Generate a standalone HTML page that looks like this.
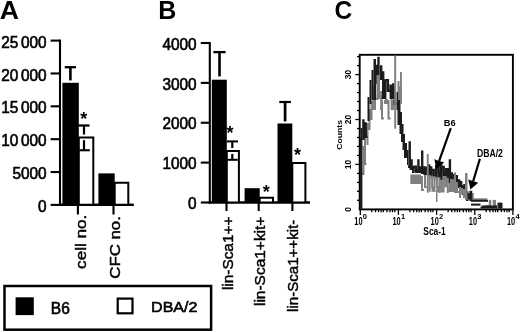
<!DOCTYPE html>
<html><head><meta charset="utf-8"><style>
html,body{margin:0;padding:0;background:#fff;width:520px;height:332px;overflow:hidden}
svg{display:block;filter:blur(0.3px)}
text{font-family:"Liberation Sans",sans-serif;fill:#000}
.ax{stroke:#000;stroke-width:2.1}
.tk{stroke:#000;stroke-width:1.3}
</style></head><body>
<svg width="520" height="332" viewBox="0 0 520 332">
<text id="tA" x="-0.3" y="19" font-size="25.4" font-weight="bold" textLength="19.25" lengthAdjust="spacingAndGlyphs">A</text>
<text id="tB" x="158.3" y="19" font-size="25.4" font-weight="bold" textLength="18.06" lengthAdjust="spacingAndGlyphs">B</text>
<text id="tC" x="334.4" y="19.4" font-size="25.6" font-weight="bold" textLength="17.72" lengthAdjust="spacingAndGlyphs">C</text>
<line x1="60" y1="39.599999999999994" x2="60" y2="205.9" class="ax"/>
<line x1="50.6" y1="40.60" x2="60" y2="40.60" class="ax"/>
<text transform="translate(46.6,47.70) scale(0.985,1)" text-anchor="end" font-size="15.6" stroke="#000" stroke-width="0.6">25<tspan dx="2.7">000</tspan></text>
<line x1="50.6" y1="73.46" x2="60" y2="73.46" class="ax"/>
<text transform="translate(46.6,80.56) scale(0.985,1)" text-anchor="end" font-size="15.6" stroke="#000" stroke-width="0.6">20<tspan dx="2.7">000</tspan></text>
<line x1="50.6" y1="106.32" x2="60" y2="106.32" class="ax"/>
<text transform="translate(46.6,113.42) scale(0.985,1)" text-anchor="end" font-size="15.6" stroke="#000" stroke-width="0.6">15<tspan dx="2.7">000</tspan></text>
<line x1="50.6" y1="139.18" x2="60" y2="139.18" class="ax"/>
<text transform="translate(46.6,146.28) scale(0.985,1)" text-anchor="end" font-size="15.6" stroke="#000" stroke-width="0.6">10<tspan dx="2.7">000</tspan></text>
<line x1="50.6" y1="172.04" x2="60" y2="172.04" class="ax"/>
<text transform="translate(46.6,179.14) scale(0.985,1)" text-anchor="end" font-size="15.6" stroke="#000" stroke-width="0.6">5000</text>
<line x1="50.6" y1="204.90" x2="60" y2="204.90" class="ax"/>
<text transform="translate(46.6,212.00) scale(0.985,1)" text-anchor="end" font-size="15.6" stroke="#000" stroke-width="0.6">0</text>
<line x1="59" y1="204.9" x2="133.7" y2="204.9" class="ax"/>
<line x1="77.9" y1="204.9" x2="77.9" y2="214.5" class="ax"/>
<line x1="113.5" y1="204.9" x2="113.5" y2="214.5" class="ax"/>
<rect x="62.4" y="82.8" width="16.4" height="122.10000000000001" fill="#000"/>
<path d="M78.8,204.9 V137.6 H93.3 V204.9" fill="#fff" stroke="#000" stroke-width="2"/>
<rect x="98.4" y="173.4" width="16.299999999999997" height="31.5" fill="#000"/>
<path d="M114.7,204.9 V182.8 H128.3 V204.9" fill="#fff" stroke="#000" stroke-width="2"/>
<line x1="59" y1="204.9" x2="133.7" y2="204.9" class="ax"/>
<rect x="64.75" y="66.05" width="11.3" height="2.3" fill="#000"/><rect x="69.10000000000001" y="67.2" width="2.6" height="13.200000000000003" fill="#000"/>
<rect x="78.5" y="124.4" width="11.0" height="2.2" fill="#000"/><rect x="82.9" y="125.5" width="2.2" height="9.099999999999994" fill="#000"/>
<rect x="82.9" y="140.2" width="2.2" height="10" fill="#000"/>
<rect x="79.3" y="149.2" width="10.5" height="2.1" fill="#000"/>
<text x="83.8" y="124.5" font-size="18" text-anchor="middle" font-weight="bold">*</text>
<text id="r1" x="85.6" y="214.8" font-size="15.0" text-anchor="end" transform="rotate(-90 85.6 214.8)" textLength="54.07" lengthAdjust="spacingAndGlyphs" stroke="#000" stroke-width="0.45">cell no.</text>
<text id="r2" x="120.5" y="216.1" font-size="15.2" text-anchor="end" transform="rotate(-90 120.5 216.1)" textLength="62.62" lengthAdjust="spacingAndGlyphs" stroke="#000" stroke-width="0.45">CFC no.</text>
<text id="r3" x="233.5" y="216.6" font-size="14.4" text-anchor="end" transform="rotate(-90 233.5 216.6)" textLength="73.45" lengthAdjust="spacingAndGlyphs" stroke="#000" stroke-width="0.45">lin-Sca1++</text>
<text id="r4" x="265" y="216.6" font-size="14.4" text-anchor="end" transform="rotate(-90 265 216.6)" textLength="89.45" lengthAdjust="spacingAndGlyphs" stroke="#000" stroke-width="0.45">lin-Sca1+kit+</text>
<text id="r5" x="298.4" y="219.7" font-size="14.4" text-anchor="end" transform="rotate(-90 298.4 219.7)" textLength="92.22" lengthAdjust="spacingAndGlyphs" stroke="#000" stroke-width="0.45">lin-Sca1++kit-</text>
<line x1="209.8" y1="42.0" x2="209.8" y2="203.5" class="ax"/>
<line x1="200.8" y1="43.00" x2="209.8" y2="43.00" class="ax"/>
<text transform="translate(196.6,49.70) scale(0.985,1)" text-anchor="end" font-size="15.6" stroke="#000" stroke-width="0.6">4000</text>
<line x1="200.8" y1="82.88" x2="209.8" y2="82.88" class="ax"/>
<text transform="translate(196.6,89.58) scale(0.985,1)" text-anchor="end" font-size="15.6" stroke="#000" stroke-width="0.6">3000</text>
<line x1="200.8" y1="122.75" x2="209.8" y2="122.75" class="ax"/>
<text transform="translate(196.6,129.45) scale(0.985,1)" text-anchor="end" font-size="15.6" stroke="#000" stroke-width="0.6">2000</text>
<line x1="200.8" y1="162.62" x2="209.8" y2="162.62" class="ax"/>
<text transform="translate(196.6,169.32) scale(0.985,1)" text-anchor="end" font-size="15.6" stroke="#000" stroke-width="0.6">1000</text>
<line x1="200.8" y1="202.50" x2="209.8" y2="202.50" class="ax"/>
<text transform="translate(196.6,209.20) scale(0.985,1)" text-anchor="end" font-size="15.6" stroke="#000" stroke-width="0.6">0</text>
<line x1="208.8" y1="202.5" x2="310" y2="202.5" class="ax"/>
<line x1="226.5" y1="202.5" x2="226.5" y2="211" class="ax"/>
<line x1="258.7" y1="202.5" x2="258.7" y2="211" class="ax"/>
<line x1="292.4" y1="202.5" x2="292.4" y2="211" class="ax"/>
<rect x="211.8" y="79.7" width="15.0" height="122.8" fill="#000"/>
<path d="M226.8,202.5 V151 H238.9 V202.5" fill="#fff" stroke="#000" stroke-width="2"/>
<rect x="244.6" y="188.2" width="15.099999999999994" height="14.300000000000011" fill="#000"/>
<path d="M259.7,202.5 V197.8 H273 V202.5" fill="#fff" stroke="#000" stroke-width="2"/>
<rect x="277.5" y="123.5" width="14.800000000000011" height="79.0" fill="#000"/>
<path d="M292.3,202.5 V163 H305.4 V202.5" fill="#fff" stroke="#000" stroke-width="2"/>
<line x1="208.8" y1="202.5" x2="310" y2="202.5" class="ax"/>
<rect x="213.4" y="50.95" width="12.2" height="2.3" fill="#000"/><rect x="218.2" y="52.1" width="2.6" height="24.300000000000004" fill="#000"/>
<rect x="279.3" y="100.9" width="11.6" height="2.2" fill="#000"/><rect x="283.75" y="102" width="2.7" height="19.400000000000006" fill="#000"/>
<rect x="226.60000000000002" y="140.4" width="11.4" height="2.0" fill="#000"/><rect x="231.20000000000002" y="141.4" width="2.2" height="6.599999999999994" fill="#000"/>
<rect x="231.20000000000002" y="153.9" width="2.2" height="6" fill="#000"/>
<rect x="227.2" y="158.8" width="10.6" height="2" fill="#000"/>
<text x="230.1" y="139.4" font-size="18" text-anchor="middle" font-weight="bold">*</text>
<text x="266.2" y="198.4" font-size="18" text-anchor="middle" font-weight="bold">*</text>
<text x="297.5" y="161.0" font-size="18" text-anchor="middle" font-weight="bold">*</text>
<rect x="4.5" y="286" width="206.6" height="43.7" fill="none" stroke="#000" stroke-width="2.5"/>
<rect x="15.6" y="297.3" width="18.2" height="17.8" fill="#000"/>
<rect x="117.7" y="298.6" width="14.8" height="14.7" fill="#fff" stroke="#000" stroke-width="2.2"/>
<text id="lgB6" x="50.8" y="313.6" font-size="16" textLength="18.98" lengthAdjust="spacingAndGlyphs" stroke="#000" stroke-width="0.6">B6</text>
<text id="lgDB" x="151.1" y="312.1" font-size="15.46" textLength="46.31" lengthAdjust="spacingAndGlyphs" stroke="#000" stroke-width="0.6">DBA/2</text>
<rect x="359.7" y="54.8" width="153.19999999999996" height="154.60000000000002" fill="none" stroke="#000" stroke-width="1.9"/>
<line x1="357.0" y1="200.3" x2="359.3" y2="200.3" class="tk"/>
<line x1="357.0" y1="191.3" x2="359.3" y2="191.3" class="tk"/>
<line x1="357.0" y1="182.4" x2="359.3" y2="182.4" class="tk"/>
<line x1="357.0" y1="173.4" x2="359.3" y2="173.4" class="tk"/>
<line x1="355.3" y1="164.4" x2="359.3" y2="164.4" class="tk"/>
<line x1="357.0" y1="155.4" x2="359.3" y2="155.4" class="tk"/>
<line x1="357.0" y1="146.4" x2="359.3" y2="146.4" class="tk"/>
<line x1="357.0" y1="137.5" x2="359.3" y2="137.5" class="tk"/>
<line x1="357.0" y1="128.5" x2="359.3" y2="128.5" class="tk"/>
<line x1="355.3" y1="119.5" x2="359.3" y2="119.5" class="tk"/>
<line x1="357.0" y1="110.5" x2="359.3" y2="110.5" class="tk"/>
<line x1="357.0" y1="101.5" x2="359.3" y2="101.5" class="tk"/>
<line x1="357.0" y1="92.6" x2="359.3" y2="92.6" class="tk"/>
<line x1="357.0" y1="83.6" x2="359.3" y2="83.6" class="tk"/>
<line x1="355.3" y1="74.6" x2="359.3" y2="74.6" class="tk"/>
<line x1="357.0" y1="65.6" x2="359.3" y2="65.6" class="tk"/>
<line x1="357.0" y1="56.6" x2="359.3" y2="56.6" class="tk"/>
<text x="351.3" y="209.3" font-size="8.5" text-anchor="middle" font-weight="bold" transform="rotate(-90 351.3 209.3)">0</text>
<text x="351.3" y="164.4" font-size="8.5" text-anchor="middle" font-weight="bold" transform="rotate(-90 351.3 164.4)">10</text>
<text x="351.3" y="119.5" font-size="8.5" text-anchor="middle" font-weight="bold" transform="rotate(-90 351.3 119.5)">20</text>
<text x="351.3" y="74.6" font-size="8.5" text-anchor="middle" font-weight="bold" transform="rotate(-90 351.3 74.6)">30</text>
<text id="Counts" x="342.3" y="134.8" font-size="7.97" text-anchor="middle" font-weight="bold" transform="rotate(-90 342.3 134.8)" textLength="29.68" lengthAdjust="spacingAndGlyphs">Counts</text>
<line x1="371.8" y1="209.4" x2="371.8" y2="212.20000000000002" class="tk"/>
<line x1="375.5" y1="209.4" x2="375.5" y2="212.20000000000002" class="tk"/>
<line x1="378.5" y1="209.4" x2="378.5" y2="212.20000000000002" class="tk"/>
<line x1="381.1" y1="209.4" x2="381.1" y2="212.20000000000002" class="tk"/>
<line x1="383.3" y1="209.4" x2="383.3" y2="212.20000000000002" class="tk"/>
<line x1="387.0" y1="209.4" x2="387.0" y2="212.20000000000002" class="tk"/>
<line x1="390.0" y1="209.4" x2="390.0" y2="212.20000000000002" class="tk"/>
<line x1="392.5" y1="209.4" x2="392.5" y2="212.20000000000002" class="tk"/>
<line x1="394.8" y1="209.4" x2="394.8" y2="212.20000000000002" class="tk"/>
<line x1="409.9" y1="209.4" x2="409.9" y2="212.20000000000002" class="tk"/>
<line x1="413.6" y1="209.4" x2="413.6" y2="212.20000000000002" class="tk"/>
<line x1="416.7" y1="209.4" x2="416.7" y2="212.20000000000002" class="tk"/>
<line x1="419.2" y1="209.4" x2="419.2" y2="212.20000000000002" class="tk"/>
<line x1="421.4" y1="209.4" x2="421.4" y2="212.20000000000002" class="tk"/>
<line x1="425.1" y1="209.4" x2="425.1" y2="212.20000000000002" class="tk"/>
<line x1="428.1" y1="209.4" x2="428.1" y2="212.20000000000002" class="tk"/>
<line x1="430.7" y1="209.4" x2="430.7" y2="212.20000000000002" class="tk"/>
<line x1="432.9" y1="209.4" x2="432.9" y2="212.20000000000002" class="tk"/>
<line x1="448.1" y1="209.4" x2="448.1" y2="212.20000000000002" class="tk"/>
<line x1="451.8" y1="209.4" x2="451.8" y2="212.20000000000002" class="tk"/>
<line x1="454.8" y1="209.4" x2="454.8" y2="212.20000000000002" class="tk"/>
<line x1="457.4" y1="209.4" x2="457.4" y2="212.20000000000002" class="tk"/>
<line x1="459.6" y1="209.4" x2="459.6" y2="212.20000000000002" class="tk"/>
<line x1="463.3" y1="209.4" x2="463.3" y2="212.20000000000002" class="tk"/>
<line x1="466.3" y1="209.4" x2="466.3" y2="212.20000000000002" class="tk"/>
<line x1="468.8" y1="209.4" x2="468.8" y2="212.20000000000002" class="tk"/>
<line x1="471.1" y1="209.4" x2="471.1" y2="212.20000000000002" class="tk"/>
<line x1="486.2" y1="209.4" x2="486.2" y2="212.20000000000002" class="tk"/>
<line x1="489.9" y1="209.4" x2="489.9" y2="212.20000000000002" class="tk"/>
<line x1="493.0" y1="209.4" x2="493.0" y2="212.20000000000002" class="tk"/>
<line x1="495.5" y1="209.4" x2="495.5" y2="212.20000000000002" class="tk"/>
<line x1="497.7" y1="209.4" x2="497.7" y2="212.20000000000002" class="tk"/>
<line x1="501.4" y1="209.4" x2="501.4" y2="212.20000000000002" class="tk"/>
<line x1="504.4" y1="209.4" x2="504.4" y2="212.20000000000002" class="tk"/>
<line x1="507.0" y1="209.4" x2="507.0" y2="212.20000000000002" class="tk"/>
<line x1="509.2" y1="209.4" x2="509.2" y2="212.20000000000002" class="tk"/>
<line x1="360.3" y1="209.4" x2="360.3" y2="214.9" class="tk"/>
<text x="354.3" y="225.2" font-size="10" font-weight="bold" textLength="8.2" lengthAdjust="spacingAndGlyphs">10</text>
<text x="362.8" y="219.2" font-size="7.5" font-weight="bold">0</text>
<line x1="398.4" y1="209.4" x2="398.4" y2="214.9" class="tk"/>
<text x="392.4" y="225.2" font-size="10" font-weight="bold" textLength="8.2" lengthAdjust="spacingAndGlyphs">10</text>
<text x="400.9" y="219.2" font-size="7.5" font-weight="bold">1</text>
<line x1="436.6" y1="209.4" x2="436.6" y2="214.9" class="tk"/>
<text x="430.6" y="225.2" font-size="10" font-weight="bold" textLength="8.2" lengthAdjust="spacingAndGlyphs">10</text>
<text x="439.1" y="219.2" font-size="7.5" font-weight="bold">2</text>
<line x1="474.8" y1="209.4" x2="474.8" y2="214.9" class="tk"/>
<text x="468.8" y="225.2" font-size="10" font-weight="bold" textLength="8.2" lengthAdjust="spacingAndGlyphs">10</text>
<text x="477.2" y="219.2" font-size="7.5" font-weight="bold">3</text>
<line x1="512.9" y1="209.4" x2="512.9" y2="214.9" class="tk"/>
<text x="506.9" y="225.2" font-size="10" font-weight="bold" textLength="8.2" lengthAdjust="spacingAndGlyphs">10</text>
<text x="515.4" y="219.2" font-size="7.5" font-weight="bold">4</text>
<text id="Sca" x="423.3" y="234.9" font-size="10.22" font-weight="bold" textLength="22.49" lengthAdjust="spacingAndGlyphs">Sca-1</text>
<rect x="410.3" y="174.5" width="10.7" height="9.5" fill="#808080"/><rect x="436" y="190" width="1.5" height="12" fill="#808080"/><rect x="471.9" y="198.3" width="15.4" height="1.9" fill="#808080"/><rect x="488.8" y="199.9" width="2.5" height="8.7" fill="#808080"/><rect x="492.7" y="199.9" width="3.3" height="8.7" fill="#808080"/>
<path d="M363.50,174.0V146.0H363.50V146.0H363.50V174.0H363.00V174.0M365.00,164.0V136.0H365.00V136.0H365.00V164.0H365.50V164.0M367.50,144.0V123.0H367.50V123.0H367.50V144.0H367.50V144.0M369.50,129.0V109.0H369.50V109.0H369.50V129.0H369.50V129.0M371.50,119.0V101.0H371.50V101.0H371.50V119.0H371.50V119.0M373.50,109.0V86.0H373.50V95.9H375.25V99.2H375.00V109.0M381.20,109.0V91.0H381.20V91.0H381.20V109.0H381.00V109.0M382.00,118.6V100.0H382.00V100.0H382.00V118.6H383.00V118.6M385.00,103.0V100.0H385.00V100.1H386.75V102.9H386.50V103.0M388.50,118.6V100.0H388.50V100.0H388.50V118.6H389.60V118.6M391.60,109.0V96.0H391.60V100.9H393.40V104.7H393.20V109.0M398.50,103.0V81.0H398.50V87.6H400.45V99.9H400.40V103.0M422.00,190.0V176.0H422.00V176.0H422.00V190.0H423.00V190.0M425.00,187.0V175.0H425.00V175.0H425.00V187.0H425.80V187.0M449.80,191.0V175.0H449.80V175.0H449.80V191.0H449.00V191.0M468.00,198.0V192.7H468.00V194.1H470.23V196.6H472.47V194.1H472.70V198.0" fill="none" stroke="#808080" stroke-width="2.0" stroke-linejoin="miter" stroke-linecap="square"/>
<rect x="359.8" y="138" width="2.6" height="71.4" fill="#1c1c1c"/><rect x="360.5" y="128" width="1.9" height="10" fill="#1c1c1c"/><rect x="367.5" y="97" width="2.0" height="24" fill="#1c1c1c"/><rect x="369.5" y="80" width="2.0" height="24" fill="#1c1c1c"/><rect x="371.5" y="70" width="2.0" height="30" fill="#1c1c1c"/><rect x="373.5" y="59" width="2.5" height="41" fill="#1c1c1c"/><rect x="396.5" y="92" width="1.5" height="18" fill="#1c1c1c"/><rect x="397.5" y="100" width="3.0" height="25" fill="#1c1c1c"/><rect x="399.5" y="112" width="2.5" height="22" fill="#1c1c1c"/><rect x="401" y="124" width="2.5" height="18" fill="#1c1c1c"/><rect x="402.5" y="134" width="2.5" height="16" fill="#1c1c1c"/><rect x="404" y="143" width="3" height="15" fill="#1c1c1c"/><rect x="407" y="150" width="1.5" height="15" fill="#1c1c1c"/><rect x="471" y="199.8" width="17" height="2.0" fill="#1c1c1c"/><rect x="471" y="203.6" width="9.5" height="2.0" fill="#1c1c1c"/><rect x="497.5" y="202.6" width="5.0" height="6.0" fill="#1c1c1c"/>
<path d="M363.40,138.8V119.2H363.40V119.2H363.40V138.8H363.40V138.8M365.70,136.8V122.2H365.70V122.2H365.70V136.8H366.30V136.8M377.20,82.8V64.7H377.20V64.7H377.20V82.8H376.10V82.8M378.50,78.8V56.7H378.50V56.7H378.50V78.8H378.80V78.8M381.20,78.8V65.2H381.20V65.2H381.20V78.8H380.80V78.8M383.20,97.8V71.2H383.20V71.2H383.20V97.8H382.80V97.8M385.20,97.8V79.2H385.20V80.3H387.87V90.7H390.53V85.6H390.80V97.8M393.20,97.8V83.2H393.20V83.2H393.20V97.8H392.40V97.8M394.80,103.8V87.2H394.80V87.2H394.80V103.8H395.30V103.8M409.70,166.8V141.2H409.70V141.2H409.70V166.8H409.20V166.8M411.60,168.8V159.2H411.60V159.2H411.60V168.8H410.80V168.8M413.20,171.8V166.2H413.20V166.8H415.80V170.6H416.00V171.8M418.40,171.8V159.2H418.40V159.2H418.40V171.8H417.90V171.8M420.30,171.8V166.2H420.30V166.2H420.30V171.8H419.80V171.8M422.20,172.8V150.5H422.20V150.5H422.20V172.8H422.20V172.8M424.60,173.8V166.2H424.60V167.7H426.90V171.6H426.80V173.8M429.20,174.8V164.2H429.20V164.2H429.20V174.8H428.80V174.8M431.20,176.8V166.2H431.20V170.0H433.70V176.4H436.20V166.3H438.70V172.8H438.80V176.8M441.20,178.8V164.2H441.20V167.0H443.70V173.8H443.80V178.8M446.20,180.8V169.2H446.20V169.2H448.05V178.5H447.50V180.8M449.90,181.8V159.2H449.90V159.2H449.90V181.8H449.40V181.8M451.80,181.8V172.2H451.80V175.3H454.27V180.8H456.73V176.3H456.80V181.8M459.20,186.8V179.2H459.20V182.3H461.20V186.7H460.80V186.8M463.20,193.8V185.2H463.20V185.3H465.20V191.7H464.80V193.8M467.20,199.8V191.2H467.20V194.8H469.13V198.3H471.07V192.0H470.60V199.8M481.70,207.4V206.4H481.70V206.6H484.06V207.4H486.41V206.5H488.77V207.2H491.13V206.6H493.49V207.3H495.84V206.5H495.80V207.4" fill="none" stroke="#1c1c1c" stroke-width="2.4" stroke-linejoin="miter" stroke-linecap="square"/>
<rect x="394.2" y="55.5" width="2.0" height="73.2" fill="#808080"/><rect x="400" y="72" width="1.9" height="32" fill="#808080"/><rect x="426.8" y="154" width="1.9" height="38.7" fill="#808080"/><rect x="454" y="172.5" width="2" height="20.5" fill="#808080"/><rect x="465" y="173" width="2.5" height="27" fill="#808080"/>
<path d="M377.50,99.0V75.0H377.50V75.0H377.50V99.0H377.00V99.0M379.00,98.0V75.0H379.00V75.0H379.00V98.0H379.20V98.0M429.70,190.7V175.0H429.70V176.7H432.10V186.9H432.50V190.7M434.50,191.0V176.0H434.50V178.5H436.95V186.9H437.40V191.0M439.40,192.0V177.0H439.40V181.2H441.48V191.6H443.56V177.1H445.64V186.3H447.72V178.8H447.80V192.0M451.00,191.0V179.0H451.00V180.3H453.00V185.6H453.00V191.0M457.00,192.0V182.0H457.00V182.0H457.00V192.0H458.00V192.0M460.00,197.0V187.0H460.00V189.1H462.00V193.2H464.00V189.1H464.00V197.0" fill="none" stroke="#808080" stroke-width="2.0" stroke-linejoin="miter" stroke-linecap="square"/>
<text id="cB6" x="443.7" y="125.9" font-size="9.95" font-weight="bold" textLength="11.87" lengthAdjust="spacingAndGlyphs">B6</text>
<text id="cDB" x="476.9" y="157" font-size="10.07" font-weight="bold" textLength="26.03" lengthAdjust="spacingAndGlyphs">DBA/2</text>
<line x1="450.8" y1="128.2" x2="439.2" y2="160.8" stroke="#000" stroke-width="2.2"/><polygon points="436.3,168.8 434.3,159.2 444.2,162.4" fill="#000"/>
<line x1="479.9" y1="158.8" x2="473.2" y2="181.1" stroke="#000" stroke-width="2.2"/><polygon points="470.4,189.6 468.3,179.4 478.2,182.7" fill="#000"/>
</svg>
</body></html>
